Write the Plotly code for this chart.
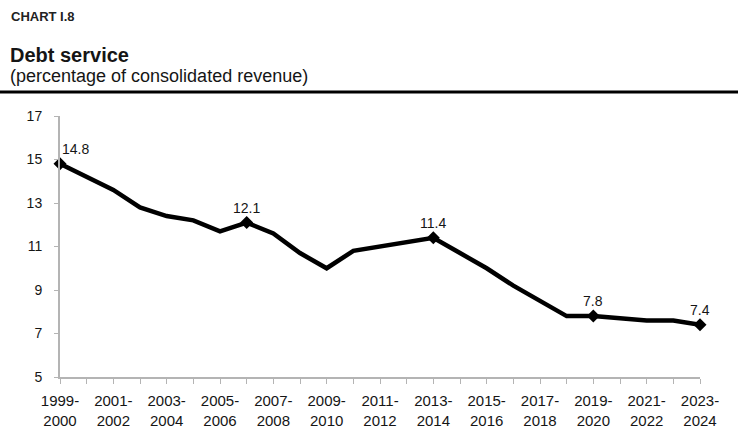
import plotly.graph_objects as go

# Fiscal years, 1999-2000 through 2023-2024
periods = [
    "1999-2000", "2000-2001", "2001-2002", "2002-2003", "2003-2004",
    "2004-2005", "2005-2006", "2006-2007", "2007-2008", "2008-2009",
    "2009-2010", "2010-2011", "2011-2012", "2012-2013", "2013-2014",
    "2014-2015", "2015-2016", "2016-2017", "2017-2018", "2018-2019",
    "2019-2020", "2020-2021", "2021-2022", "2022-2023", "2023-2024",
]

# Debt service as a percentage of consolidated revenue
debt_service = [
    14.8, 14.2, 13.6, 12.8, 12.4,
    12.2, 11.7, 12.1, 11.6, 10.7,
    10.0, 10.8, 11.0, 11.2, 11.4,
    10.7, 10.0, 9.2, 8.5, 7.8,
    7.8, 7.7, 7.6, 7.6, 7.4,
]

# Years that get a marker and a value label
labelled_periods = ["1999-2000", "2006-2007", "2013-2014", "2019-2020", "2023-2024"]

y_ticks = [5, 7, 9, 11, 13, 15, 17]

FONT = "Liberation Sans, Arial, sans-serif"
AXIS_GREY = "#b4b4b4"
TEXT = "#151515"

idx = list(range(len(periods)))
tick_text = [
    (p.replace("-", "-<br>") if i % 2 == 0 else "") for i, p in enumerate(periods)
]

lab_idx = [periods.index(p) for p in labelled_periods]
lab_val = [debt_service[i] for i in lab_idx]

fig = go.Figure()
fig.add_trace(go.Scatter(
    x=idx, y=debt_service, mode="lines",
    line=dict(color="#000000", width=4.5),
    hoverinfo="skip", showlegend=False,
))
fig.add_trace(go.Scatter(
    x=lab_idx, y=lab_val, mode="markers",
    marker=dict(symbol="diamond", size=10, color="#000000"),
    showlegend=False, cliponaxis=False, hoverinfo="skip",
))

# Value labels above the marked points
for n, (xi, v) in enumerate(zip(lab_idx, lab_val)):
    fig.add_annotation(
        x=xi, y=v, text=f"{v:.1f}", showarrow=False,
        xanchor="left" if n == 0 else "center", yanchor="bottom",
        xshift=0, yshift=5,
        font=dict(family=FONT, size=14, color=TEXT),
    )

fig.update_layout(
    width=738, height=430,
    margin=dict(l=60, r=38, t=116, b=53),
    paper_bgcolor="white", plot_bgcolor="white",
    font=dict(family=FONT, size=12, color=TEXT),
    xaxis=dict(
        range=[0, 24], tickmode="array", tickvals=idx, ticktext=tick_text,
        showgrid=False, zeroline=False, automargin=False,
        showline=True, linecolor=AXIS_GREY, linewidth=2,
        ticks="outside", ticklen=5, tickcolor=AXIS_GREY, tickwidth=1,
        tickfont=dict(family=FONT, size=15, color=TEXT),
        tickangle=0, ticklabelstandoff=4,
    ),
    yaxis=dict(
        range=[5, 17], tickmode="array", tickvals=y_ticks,
        showgrid=False, zeroline=False, automargin=False,
        showline=True, linecolor=AXIS_GREY, linewidth=2,
        ticks="outside", ticklen=4, tickcolor=AXIS_GREY, tickwidth=1,
        tickfont=dict(family=FONT, size=14, color=TEXT),
        ticklabelstandoff=9,
    ),
)

# Paper coordinates from page pixels
def px_x(px):
    return (px - 60) / 640.0

def px_y(py):
    return (377 - py) / 261.0

fig.add_annotation(
    text="<b>CHART I.8</b>", xref="paper", yref="paper",
    x=px_x(9), y=px_y(17), xanchor="left", yanchor="middle",
    showarrow=False, font=dict(family=FONT, size=13, color="#222222"),
)
fig.add_annotation(
    text="<b>Debt service</b>", xref="paper", yref="paper",
    x=px_x(8), y=px_y(55), xanchor="left", yanchor="middle",
    showarrow=False, font=dict(family=FONT, size=20, color=TEXT),
)
fig.add_annotation(
    text="(percentage of consolidated revenue)", xref="paper", yref="paper",
    x=px_x(8), y=px_y(76), xanchor="left", yanchor="middle",
    showarrow=False, font=dict(family=FONT, size=18, color=TEXT),
)
fig.add_shape(
    type="line", xref="paper", yref="paper",
    x0=px_x(0), x1=px_x(738), y0=px_y(92), y1=px_y(92),
    line=dict(color="#000000", width=3),
)

fig.write_html("out.html")
